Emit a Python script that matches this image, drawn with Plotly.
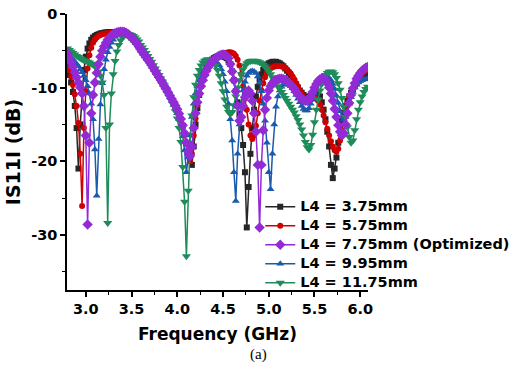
import numpy as np
import plotly.graph_objects as go

# Frequency sweep (GHz), 2.80 ... 6.08 in 0.02 GHz steps
freq_start, freq_step, n_points = 2.80, 0.02, 165
freq_ghz = np.round(freq_start + freq_step * np.arange(n_points), 2)

series_names = [
    "L4 = 3.75mm",
    "L4 = 5.75mm",
    "L4 = 7.75mm (Optimized)",
    "L4 = 9.95mm",
    "L4 = 11.75mm",
]

s11_l4_375 = [
    -7.5, -8.3, -9.3, -10.6, -12.5, -15.5, -21.0, -15.0, -10.5, -7.6,
    -5.8, -4.7, -4.0, -3.5, -3.2, -3.0, -2.85, -2.75, -2.65, -2.6,
    -2.55, -2.5, -2.5, -2.45, -2.45, -2.45, -2.45, -2.45, -2.45, -2.45,
    -2.5, -2.55, -2.65, -2.8, -3.0, -3.25, -3.5, -3.8, -4.1, -4.5,
    -4.9, -5.25, -5.6, -5.95, -6.3, -6.65, -7.05, -7.45, -7.85, -8.25,
    -8.65, -9.05, -9.45, -9.9, -10.3, -10.75, -11.2, -11.65, -12.1, -12.55,
    -13.05, -13.65, -14.35, -15.2, -16.3, -17.6, -18.9, -19.9, -20.5, -18.0,
    -15.0, -12.8, -11.0, -9.7, -8.7, -7.9, -7.3, -6.8, -6.5, -6.2,
    -6.0, -5.85, -5.75, -5.7, -5.7, -5.75, -5.85, -6.0, -6.25, -6.8,
    -7.8, -9.0, -10.5, -12.0, -13.6, -15.5, -17.8, -21.5, -29.0, -23.5,
    -19.0, -15.5, -13.0, -11.2, -9.9, -8.9, -8.2, -7.6, -7.2, -6.9,
    -6.7, -6.6, -6.5, -6.5, -6.5, -6.6, -6.7, -6.9, -7.1, -7.4,
    -7.7, -8.0, -8.4, -8.8, -9.2, -9.6, -10.0, -10.4, -10.7, -11.0,
    -11.2, -11.3, -11.3, -11.1, -10.9, -10.7, -10.6, -10.7, -11.2, -12.0,
    -13.0, -14.3, -16.0, -18.0, -20.5, -22.3, -21.0, -19.5, -17.5, -15.8,
    -14.5, -13.4, -12.5, -11.8, -11.2, -10.7, -10.2, -9.8, -9.4, -9.1,
    -8.9, -8.7, -8.5, -8.3, -8.2,
]

s11_l4_575 = [
    -6.8, -7.6, -8.5, -9.6, -10.9, -12.5, -14.8, -19.0, -26.1, -15.5,
    -10.5, -7.4, -5.6, -4.6, -3.9, -3.5, -3.2, -3.0, -2.85, -2.75,
    -2.7, -2.65, -2.6, -2.55, -2.5, -2.5, -2.45, -2.45, -2.45, -2.45,
    -2.5, -2.55, -2.65, -2.8, -3.0, -3.25, -3.5, -3.8, -4.1, -4.5,
    -4.9, -5.25, -5.6, -5.95, -6.3, -6.65, -7.05, -7.45, -7.85, -8.25,
    -8.65, -9.05, -9.45, -9.9, -10.3, -10.75, -11.2, -11.65, -12.1, -12.55,
    -13.05, -13.65, -14.35, -15.2, -16.3, -17.6, -18.8, -20.0, -19.0, -16.5,
    -14.2, -12.4, -11.0, -9.9, -9.0, -8.3, -7.7, -7.2, -6.8, -6.5,
    -6.2, -6.0, -5.8, -5.6, -5.5, -5.4, -5.3, -5.25, -5.2, -5.2,
    -5.25, -5.4, -5.7, -6.2, -7.0, -8.2, -9.8, -11.5, -13.0, -15.0,
    -16.5, -17.0, -16.5, -15.2, -13.5, -11.8, -10.4, -9.4, -8.6, -8.0,
    -7.6, -7.4, -7.25, -7.15, -7.1, -7.05, -7.05, -7.1, -7.2, -7.35,
    -7.55, -7.8, -8.1, -8.5, -8.9, -9.4, -9.9, -10.4, -10.8, -11.2,
    -11.5, -11.7, -11.7, -11.6, -11.5, -11.4, -11.5, -11.8, -12.3, -13.0,
    -13.8, -14.7, -15.6, -16.5, -17.3, -18.0, -18.5, -18.7, -18.3, -17.2,
    -15.8, -14.4, -13.2, -12.2, -11.4, -10.7, -10.1, -9.6, -9.1, -8.7,
    -8.4, -8.1, -7.9, -7.7, -7.5,
]

s11_l4_775 = [
    -5.3, -6.0, -6.6, -7.2, -7.9, -8.6, -9.3, -10.0, -10.8, -12.5,
    -16.5, -28.6, -17.5, -13.5, -11.0, -9.3, -8.0, -6.8, -5.8, -5.0,
    -4.4, -3.9, -3.5, -3.2, -2.95, -2.75, -2.6, -2.5, -2.45, -2.4,
    -2.4, -2.45, -2.55, -2.7, -2.9, -3.15, -3.4, -3.7, -4.0, -4.4,
    -4.8, -5.15, -5.5, -5.85, -6.2, -6.55, -6.95, -7.35, -7.75, -8.15,
    -8.55, -8.95, -9.35, -9.8, -10.2, -10.65, -11.1, -11.55, -12.0, -12.45,
    -12.95, -13.55, -14.25, -15.1, -16.2, -17.5, -18.7, -19.3, -18.0, -15.5,
    -13.5, -12.0, -10.8, -9.8, -9.0, -8.3, -7.7, -7.2, -6.8, -6.5,
    -6.2, -6.0, -5.8, -5.65, -5.55, -5.5, -5.55, -5.7, -6.0, -6.8,
    -7.8, -9.0, -10.5, -12.5, -14.5, -14.0, -12.5, -11.3, -10.6, -10.4,
    -10.8, -11.8, -13.5, -16.0, -20.5, -29.0, -20.5, -15.8, -13.0, -11.4,
    -10.4, -9.8, -9.4, -9.1, -8.95, -8.85, -8.8, -8.8, -8.85, -8.95,
    -9.1, -9.3, -9.6, -9.9, -10.2, -10.6, -10.9, -11.2, -11.5, -11.7,
    -11.8, -11.8, -11.6, -11.2, -10.6, -10.0, -9.5, -9.1, -8.85, -8.75,
    -8.8, -9.0, -9.4, -10.0, -10.8, -11.8, -12.9, -14.0, -15.1, -16.0,
    -16.5, -16.2, -15.0, -13.5, -12.1, -11.0, -10.1, -9.4, -8.8, -8.4,
    -8.0, -7.7, -7.5, -7.3, -7.2,
]

s11_l4_995 = [
    -5.3, -5.6, -5.9, -6.2, -6.5, -6.8, -7.1, -7.5, -7.9, -8.4,
    -9.0, -9.8, -10.8, -12.2, -14.3, -18.4, -24.7, -17.0, -12.3, -9.4,
    -7.5, -6.2, -5.2, -4.5, -3.9, -3.5, -3.1, -2.85, -2.7, -2.55,
    -2.5, -2.5, -2.6, -2.75, -2.95, -3.2, -3.45, -3.75, -4.05, -4.45,
    -4.85, -5.2, -5.55, -5.9, -6.25, -6.6, -7.0, -7.4, -7.8, -8.2,
    -8.6, -9.0, -9.45, -9.9, -10.35, -10.8, -11.3, -11.8, -12.35, -12.9,
    -13.5, -14.3, -15.3, -16.6, -18.5, -21.5, -19.5, -16.5, -14.0, -12.2,
    -10.8, -9.8, -9.0, -8.4, -7.9, -7.5, -7.2, -6.95, -6.8, -6.65,
    -6.6, -6.6, -6.7, -7.0, -7.5, -8.2, -9.2, -10.5, -12.2, -14.3,
    -17.2, -21.5, -25.4, -19.0, -15.0, -12.2, -10.4, -9.2, -8.4, -8.0,
    -7.8, -7.75, -7.8, -8.0, -8.5, -9.3, -10.5, -12.2, -14.5, -17.5,
    -21.5, -23.8, -19.0, -15.0, -12.6, -11.2, -10.4, -9.9, -9.6, -9.5,
    -9.5, -9.6, -9.8, -10.1, -10.5, -11.0, -11.5, -12.0, -12.5, -12.9,
    -13.1, -13.1, -12.8, -12.2, -11.5, -10.8, -10.1, -9.6, -9.2, -8.9,
    -8.7, -8.6, -8.6, -8.7, -9.0, -9.5, -10.2, -11.1, -12.1, -13.2,
    -14.0, -14.3, -14.0, -13.2, -12.2, -11.3, -10.6, -10.0, -9.6, -9.3,
    -9.1, -9.0, -8.9, -8.85, -8.8,
]

s11_l4_1175 = [
    -4.7, -4.9, -5.1, -5.3, -5.5, -5.7, -5.85, -6.0, -6.15, -6.3,
    -6.4, -6.5, -6.6, -6.75, -6.9, -7.1, -7.4, -7.8, -8.4, -9.3,
    -11.0, -15.5, -28.4, -15.0, -10.8, -8.2, -6.4, -5.1, -4.2, -3.6,
    -3.2, -2.95, -2.8, -2.75, -2.75, -2.85, -3.0, -3.2, -3.45, -3.75,
    -4.2, -4.55, -4.9, -5.3, -5.7, -6.1, -6.5, -6.95, -7.4, -7.85,
    -8.3, -8.75, -9.2, -9.7, -10.2, -10.7, -11.2, -11.75, -12.4, -13.2,
    -14.2, -15.5, -17.4, -20.8, -25.5, -32.9, -24.0, -17.5, -13.8, -11.3,
    -9.6, -8.4, -7.6, -7.0, -6.6, -6.35, -6.2, -6.15, -6.2, -6.35,
    -6.6, -7.0, -7.6, -8.4, -9.4, -10.5, -11.6, -12.6, -13.3, -13.6,
    -13.3, -12.4, -11.2, -10.0, -9.0, -8.2, -7.5, -7.0, -6.7, -6.5,
    -6.4, -6.35, -6.35, -6.4, -6.45, -6.55, -6.7, -6.9, -7.15, -7.45,
    -7.8, -8.2, -8.6, -9.0, -9.4, -9.8, -10.2, -10.6, -11.0, -11.4,
    -11.8, -12.2, -12.6, -13.0, -13.4, -13.9, -14.4, -15.0, -15.7, -16.5,
    -17.4, -18.1, -18.4, -17.8, -16.4, -14.7, -13.0, -11.6, -10.4, -9.5,
    -8.8, -8.3, -8.0, -7.85, -7.8, -7.9, -8.2, -8.7, -9.4, -10.3,
    -11.4, -12.6, -14.0, -15.4, -16.7, -17.5, -17.2, -15.8, -14.3, -13.0,
    -12.0, -11.2, -10.6, -10.2, -9.9,
]

y_tick_vals = [0, -10, -20, -30]
y_tick_text = ["0", "-10", "-20", "-30"]
x_tick_vals = [3.0, 3.5, 4.0, 4.5, 5.0, 5.5, 6.0]
x_tick_text = ["3.0", "3.5", "4.0", "4.5", "5.0", "5.5", "6.0"]

colors = ["#262626", "#D00000", "#922BD6", "#1A5AAE", "#1E8C5A"]
symbols = ["square", "circle", "diamond", "triangle-up", "triangle-down"]
msizes = [6, 6, 8, 7, 8]
all_values = [s11_l4_375, s11_l4_575, s11_l4_775, s11_l4_995, s11_l4_1175]
draw_order = [0, 1, 3, 4, 2]

fig = go.Figure()
for k in draw_order:
    fig.add_trace(go.Scatter(
        x=freq_ghz, y=all_values[k], mode="lines+markers",
        name="<span style='font-size:14.5px'>" + series_names[k] + "</span>",
        legendrank=k + 1,
        line=dict(color=colors[k], width=1.5),
        marker=dict(symbol=symbols[k], size=msizes[k], color=colors[k], line=dict(width=0)),
    ))

axis_font = dict(family="DejaVu Sans", size=14.5, color="black", weight="bold")
xtitle_font = dict(family="DejaVu Sans", size=17, color="black", weight="bold")
ytitle_font = dict(family="DejaVu Sans", size=19, color="black", weight="bold")

fig.update_layout(
    width=519, height=374,
    margin=dict(l=67, r=151, t=14, b=84, autoexpand=False),
    paper_bgcolor="white", plot_bgcolor="white",
    showlegend=True,
    legend=dict(
        x=0.642, y=0.354, xanchor="left", yanchor="top",
        bgcolor="rgba(0,0,0,0)", borderwidth=0,
        font=dict(family="DejaVu Sans", size=12, color="black", weight="bold"),
        tracegroupgap=0, itemwidth=30,
    ),
    xaxis=dict(
        range=[2.795, 6.085], showgrid=False, zeroline=False, automargin=False,
        showline=True, linecolor="black", linewidth=1.5,
        ticks="outside", ticklen=5, tickwidth=1.5, tickcolor="black",
        tickvals=x_tick_vals, ticktext=x_tick_text, tickfont=axis_font,
        minor=dict(dtick=0.25, tick0=3.0, ticks="outside", ticklen=3, tickwidth=1.2, tickcolor="black"),
        title=dict(text="Frequency (GHz)", font=xtitle_font, standoff=12),
    ),
    yaxis=dict(
        range=[-37.5, 0], showgrid=False, zeroline=False, automargin=False,
        showline=True, linecolor="black", linewidth=1.5,
        ticks="outside", ticklen=5, tickwidth=1.5, tickcolor="black",
        tickvals=y_tick_vals, ticktext=y_tick_text, tickfont=axis_font,
        ticklabeloverflow="allow",
        minor=dict(dtick=5, tick0=0, ticks="outside", ticklen=3, tickwidth=1.2, tickcolor="black"),
        title=dict(text="IS11I (dB)", font=ytitle_font, standoff=5),
    ),
    annotations=[dict(
        text="(a)", xref="paper", yref="paper", x=0.6346, y=-0.2355,
        xanchor="center", yanchor="middle",
        showarrow=False, font=dict(family="Liberation Serif", size=15, color="black"),
    )],
)

# remove the default page margin so the figure fills the window exactly
fig.write_html(
    "out.html",
    config={"displayModeBar": False},
    post_script="document.body.style.margin='0px';",
)
